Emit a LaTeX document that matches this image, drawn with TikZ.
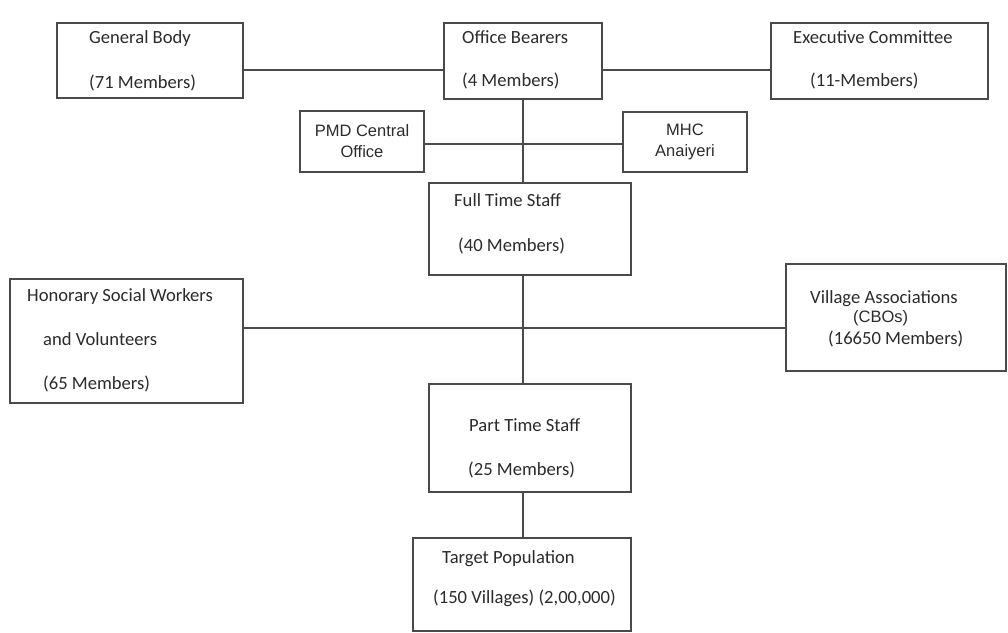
\documentclass[tikz,border=0pt]{standalone}
\usepackage{fontspec}
\setmainfont{Carlito}
\newfontfamily\arialf{Liberation Sans}
\definecolor{ln}{HTML}{4A4A4A}
\definecolor{tx}{HTML}{2B2B2B}
\begin{document}
\begin{tikzpicture}[x=1pt,y=-1pt,
  box/.style={draw=ln,line width=1.3pt,rectangle,inner sep=0pt,fill=none},
  conn/.style={draw=ln,line width=1.3pt},
  lbl/.style={inner sep=0pt,anchor=base west,text=tx,font=\fontsize{18.6}{22}\selectfont},
  albl/.style={inner sep=0pt,text=tx,align=center,font=\arialf\fontsize{16.5}{21}\selectfont}]
\useasboundingbox[fill=white] (0,0) rectangle (1008,632);
% boxes
\node[box,minimum width=186pt,minimum height=75pt] (gb) at (150,60.5) {};
\node[box,minimum width=158pt,minimum height=76pt] (ob) at (523,61) {};
\node[box,minimum width=217pt,minimum height=76pt] (ec) at (879.5,61) {};
\node[box,minimum width=124pt,minimum height=61pt,albl] (pmd) at (362,141.5) {PMD Central\\Office};
\node[box,minimum width=124pt,minimum height=60pt,albl] (mhc) at (685,142) {MHC\\Anaiyeri};
\node[box,minimum width=202pt,minimum height=92pt] (fts) at (530,229) {};
\node[box,minimum width=233pt,minimum height=124pt] (hsw) at (126.5,341) {};
\node[box,minimum width=220pt,minimum height=107pt] (va) at (896,317.5) {};
\node[box,minimum width=202pt,minimum height=108pt] (pts) at (530,438) {};
\node[box,minimum width=218pt,minimum height=93pt] (tp) at (522,584.5) {};
% texts
\node[lbl] (gbt1) at (89,43) {General Body};
\node[lbl] (gbt2) at (89,88) {(71 Members)};
\node[lbl] (obt1) at (462,43) {Office Bearers};
\node[lbl] (obt2) at (462,86) {(4 Members)};
\node[lbl] (ect1) at (793,43) {Executive Committee};
\node[lbl] (ect2) at (810,86) {(11-Members)};
\node[lbl] (ftt1) at (454,206) {Full Time Staff};
\node[lbl] (ftt2) at (458,251) {(40 Members)};
\node[lbl] (hst1) at (27,301) {Honorary Social Workers};
\node[lbl] (hst2) at (43,345) {and Volunteers};
\node[lbl] (hst3) at (43,389) {(65 Members)};
\node[lbl] (vat1) at (810,303) {Village Associations};
\node[inner sep=0pt,anchor=base west,text=tx,font=\arialf\fontsize{16.5}{20}\selectfont] (vat2) at (853,322) {(CBOs)};
\node[lbl] (vat3) at (828,344) {(16650 Members)};
\node[lbl] (ptt1) at (469,431) {Part Time Staff};
\node[lbl] (ptt2) at (468,475) {(25 Members)};
\node[lbl] (tpt1) at (442,563) {Target Population};
\node[lbl] (tpt2) at (433,603) {(150 Villages) (2,00,000)};
% junctions
\coordinate (j1) at (523,70);
\coordinate (j2) at (523,144);
\coordinate (j3) at (523,328);
% connectors
\draw[conn] (gb.east |- j1) -- (ob.west |- j1);
\draw[conn] (ob.east |- j1) -- (ec.west |- j1);
\draw[conn] (ob.south -| j1) -- (fts.north -| j1);
\draw[conn] (pmd.east |- j2) -- (mhc.west |- j2);
\draw[conn] (hsw.east |- j3) -- (va.west |- j3);
\draw[conn] (fts.south -| j3) -- (pts.north -| j3);
\draw[conn] (pts.south -| j3) -- (tp.north -| j3);
\end{tikzpicture}
\end{document}
